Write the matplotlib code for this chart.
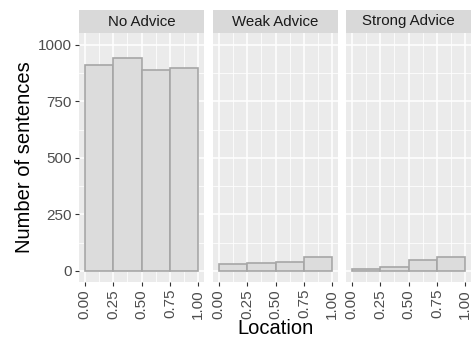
import matplotlib as mpl
mpl.use('Agg')
from matplotlib import pyplot as plt
import numpy as np

# Facet names and histogram counts
panels = ['No Advice', 'Weak Advice', 'Strong Advice']
bin_edges = [0.0, 0.25, 0.5, 0.75, 1.0]
no_advice = [911, 941, 888, 899]
weak_advice = [30, 34, 41, 60]
strong_advice = [9, 16, 49, 62]
counts = [no_advice, weak_advice, strong_advice]

x_ticks = [0.0, 0.25, 0.5, 0.75, 1.0]
x_ticklabels = ['0.00', '0.25', '0.50', '0.75', '1.00']
y_ticks = [0, 250, 500, 750, 1000]

plt.rcParams['font.family'] = ['Liberation Sans', 'DejaVu Sans']

W, H = 471, 342
fig = plt.figure(figsize=(W / 100, H / 100), dpi=100)

lefts = [79, 213, 346]
pw = 125
top, bottom = 33, 282
strip_h = 23

for k, (name, vals) in enumerate(zip(panels, counts)):
    ax = fig.add_axes([lefts[k] / W, 1 - bottom / H, pw / W, (bottom - top) / H])
    ax.set_facecolor('#EBEBEB')
    ax.set_xlim(-0.05, 1.05)
    ax.set_ylim(-49, 1053)
    ax.set_xticks(x_ticks)
    ax.set_xticks([0.125, 0.375, 0.625, 0.875], minor=True)
    ax.set_yticks(y_ticks)
    ax.set_yticks([125, 375, 625, 875], minor=True)
    ax.grid(which='major', color='white', linewidth=1.1)
    ax.grid(which='minor', color='white', linewidth=0.55)
    ax.set_axisbelow(True)
    for s in ax.spines.values():
        s.set_visible(False)
    ax.bar(bin_edges[:-1], vals, width=0.25, align='edge',
           color='#DCDCDC', edgecolor='#A6A6A6', linewidth=1.2)
    ax.set_xticklabels(x_ticklabels, rotation=90, fontsize=11, color='#4D4D4D')
    ax.tick_params(which='major', length=3, color='#333333', pad=2)
    ax.tick_params(which='minor', length=0)
    if k == 0:
        ax.set_yticklabels([str(v) for v in y_ticks], fontsize=11, color='#4D4D4D')
        ax.set_ylabel('Number of sentences', fontsize=14.5, labelpad=3)
    else:
        ax.tick_params(axis='y', which='both', left=False, labelleft=False)
    if k == 1:
        ax.set_xlabel('Location', fontsize=14.5, labelpad=0)

    # facet strip
    sax = fig.add_axes([lefts[k] / W, 1 - top / H, pw / W, strip_h / H])
    sax.set_facecolor('#D9D9D9')
    sax.set_xticks([])
    sax.set_yticks([])
    for s in sax.spines.values():
        s.set_visible(False)
    sax.text(0.5, 0.5, name, ha='center', va='center', fontsize=10.8,
             color='#1A1A1A', transform=sax.transAxes)

plt.savefig('out.png', dpi=100)
